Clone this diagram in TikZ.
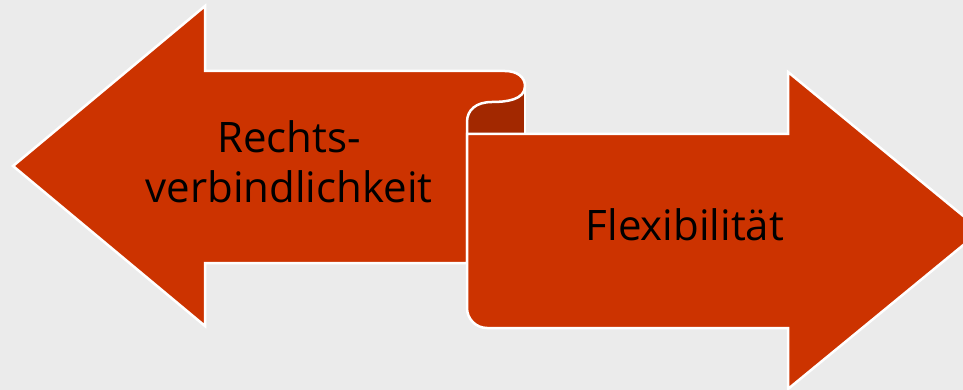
\documentclass[tikz,border=0pt]{standalone}
\usepackage{fontspec}
\setmainfont{Open Sans}
\definecolor{bg}{HTML}{EBEBEB}
\definecolor{ribbon}{HTML}{CC3300}
\definecolor{fold}{HTML}{A22800}
\begin{document}
\begin{tikzpicture}[x=1pt,y=-1pt,
  ribbonshape/.style={fill=ribbon, draw=white, line width=2.5pt, line join=miter},
  foldshape/.style={fill=fold, draw=white, line width=2.5pt},
  lbl/.style={font=\fontsize{42}{50}\selectfont, align=center, text=black, inner sep=0pt}]
\useasboundingbox (0,0) rectangle (963,390);
\fill[bg] (0,0) rectangle (963,390);
% back side of the fold
\path[foldshape] (467,86) rectangle (525,134);
% left ribbon arrow with curl
\path[ribbonshape] (205,6) -- (13,166) -- (205,326) -- (205,263) -- (467,263) -- (467,122)
  .. controls (467,110) and (476,102) .. (492,102)
  .. controls (506,102) and (525,100) .. (525,86)
  .. controls (525,77) and (517,71) .. (505,71) -- (205,71) -- cycle;
% right ribbon arrow
\path[ribbonshape] (467,134) -- (788,134) -- (788,72) -- (981,230.5) -- (788,389) -- (788,328) -- (487,328)
  .. controls (476,328) and (467,319) .. (467,308) -- cycle;
\node[lbl, anchor=base] (left) at (289,202) {Rechts-\\verbindlichkeit};
\node[lbl, anchor=base] (right) at (685,240) {Flexibilität};
\end{tikzpicture}
\end{document}
